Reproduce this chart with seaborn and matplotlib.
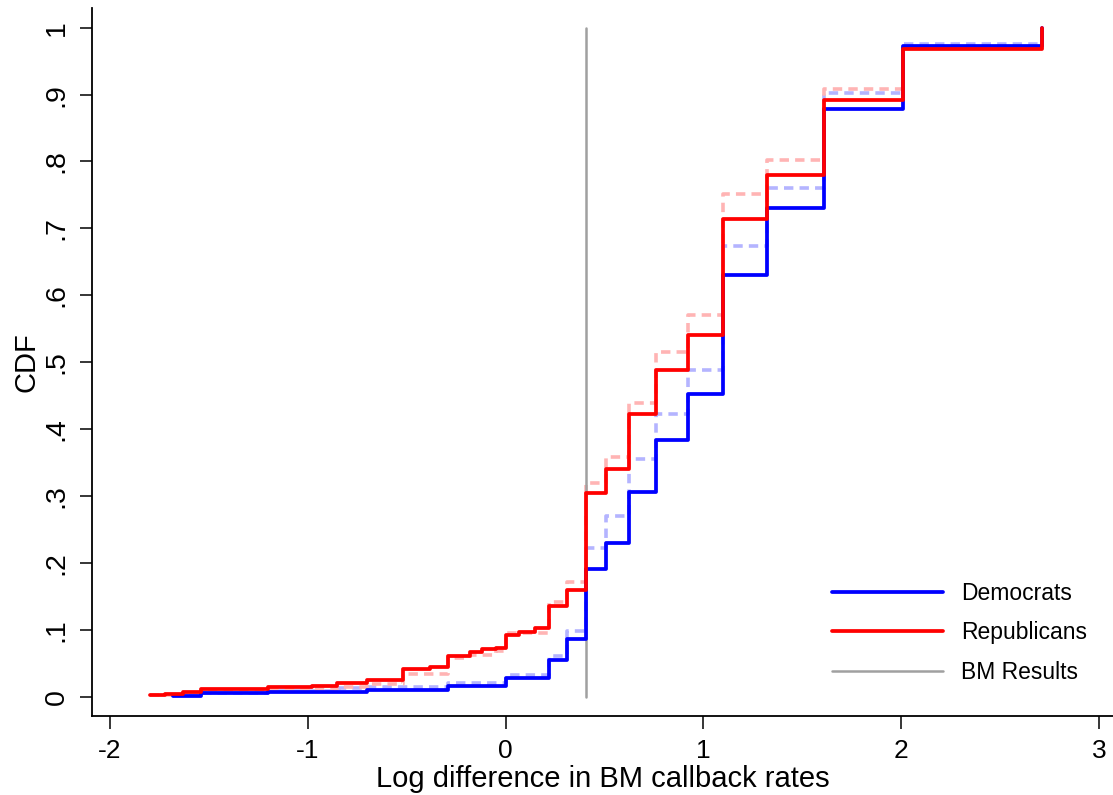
import numpy as np
import pandas as pd
import matplotlib.pyplot as plt
import seaborn as sns

# CDF steps (x = log difference in BM callback rates)
dem_x = [-1.68, -1.54, -1.20, -0.70, -0.29, 0.0, 0.22, 0.31, 0.405, 0.51, 0.625, 0.76, 0.92, 1.10, 1.32, 1.61, 2.01, 2.71]
dem_y = [0.001, 0.005, 0.007, 0.010, 0.016, 0.0275, 0.055, 0.086, 0.191, 0.230, 0.306, 0.384, 0.453, 0.631, 0.730, 0.878, 0.9726, 1.0]

rep_x = [-1.80, -1.72, -1.63, -1.54, -1.20, -0.98, -0.85, -0.70, -0.52, -0.38, -0.29, -0.18, -0.12, -0.05, 0.0, 0.07, 0.15,
         0.22, 0.31, 0.405, 0.51, 0.625, 0.76, 0.92, 1.10, 1.32, 1.61, 2.01, 2.71]
rep_y = [0.002, 0.004, 0.0065, 0.0115, 0.014, 0.0165, 0.021, 0.025, 0.041, 0.044, 0.061, 0.067, 0.071, 0.073, 0.092, 0.097, 0.102,
         0.136, 0.160, 0.305, 0.341, 0.4225, 0.489, 0.5406, 0.7136, 0.780, 0.892, 0.9677, 1.0]

# lighter dashed series (not in legend)
dem2_x = [-1.68, -1.54, -1.20, -0.84, -0.70, -0.29, 0.0, 0.22, 0.31, 0.405, 0.51, 0.625, 0.76, 0.92, 1.10, 1.32, 1.61, 2.01, 2.71]
dem2_y = [0.002, 0.006, 0.009, 0.0125, 0.015, 0.021, 0.0325, 0.061, 0.098, 0.223, 0.270, 0.355, 0.4225, 0.488, 0.674, 0.760, 0.902, 0.9756, 1.0]

rep2_x = [-1.80, -1.63, -1.54, -1.20, -0.98, -0.85, -0.70, -0.52, -0.29, -0.18, -0.05, 0.0, 0.22, 0.31, 0.405, 0.51, 0.625, 0.76, 0.92, 1.10, 1.32, 1.61, 2.01, 2.71]
rep2_y = [0.002, 0.005, 0.008, 0.010, 0.012, 0.015, 0.019, 0.034, 0.058, 0.063, 0.068, 0.095, 0.142, 0.171, 0.319, 0.359, 0.4395, 0.5145, 0.5705, 0.751, 0.802, 0.908, 0.970, 1.0]

bm_x = 0.405

x_ticks = [-2, -1, 0, 1, 2, 3]
y_ticks = [0, 0.1, 0.2, 0.3, 0.4, 0.5, 0.6, 0.7, 0.8, 0.9, 1.0]
y_ticklabels = ['0', '.1', '.2', '.3', '.4', '.5', '.6', '.7', '.8', '.9', '1']

sns.set_style('white')
plt.rcParams['font.family'] = ['Liberation Sans', 'DejaVu Sans']
plt.rcParams['text.color'] = 'black'
plt.rcParams['axes.labelcolor'] = 'black'
plt.rcParams['xtick.color'] = 'black'
plt.rcParams['ytick.color'] = 'black'

W, H = 1113, 795
fig = plt.figure(figsize=(W / 100, H / 100), dpi=100)
ax = fig.add_axes([92 / W, 1 - 715.7 / H, 1 - 92 / W, (715.7 - 8) / H])

dash = (0, (2.6, 1.7))
sns.lineplot(x=dem2_x, y=dem2_y, ax=ax, drawstyle='steps-post', estimator=None, sort=False,
             color='#b4b4ff', lw=2.6, linestyle=dash, dash_capstyle='butt')
sns.lineplot(x=rep2_x, y=rep2_y, ax=ax, drawstyle='steps-post', estimator=None, sort=False,
             color='#ffb4b4', lw=2.6, linestyle=dash, dash_capstyle='butt')
ax.plot([bm_x, bm_x], [0, 1], color='#a0a0a0', lw=1.8, label='BM Results')
sns.lineplot(x=dem_x, y=dem_y, ax=ax, drawstyle='steps-post', estimator=None, sort=False,
             color='#0000ff', lw=2.7, label='Democrats')
sns.lineplot(x=rep_x, y=rep_y, ax=ax, drawstyle='steps-post', estimator=None, sort=False,
             color='#ff0000', lw=2.7, label='Republicans')

ax.set_xlim(-2.091, 3.071)
ax.set_ylim(-0.0284, 1.0294)
ax.set_xticks(x_ticks)
ax.set_xticklabels([str(t) for t in x_ticks], fontsize=19)
ax.set_yticks(y_ticks)
ax.set_yticklabels(y_ticklabels, fontsize=20.5, rotation=90, va='center')
ax.tick_params(direction='out', length=9, width=1.1, color='black', labelcolor='black', pad=7, bottom=True, left=True)
ax.tick_params(axis='x', pad=8)

for s in ['top', 'right']:
    ax.spines[s].set_visible(False)
for s in ['left', 'bottom']:
    ax.spines[s].set_color('black')
    ax.spines[s].set_linewidth(1.3)

ax.set_xlabel('Log difference in BM callback rates', fontsize=21, labelpad=1)
ax.set_ylabel('CDF', fontsize=21, labelpad=2)

h, l = ax.get_legend_handles_labels()
order = [l.index('Democrats'), l.index('Republicans'), l.index('BM Results')]
ax.legend([h[i] for i in order], [l[i] for i in order], frameon=False, fontsize=16.5,
          handlelength=4.85, handletextpad=0.8, labelspacing=0.72, borderpad=0, borderaxespad=0,
          loc='upper left', bbox_to_anchor=(832 / W, 1 - 582 / H), bbox_transform=fig.transFigure)

fig.savefig('out.png', dpi=100)
